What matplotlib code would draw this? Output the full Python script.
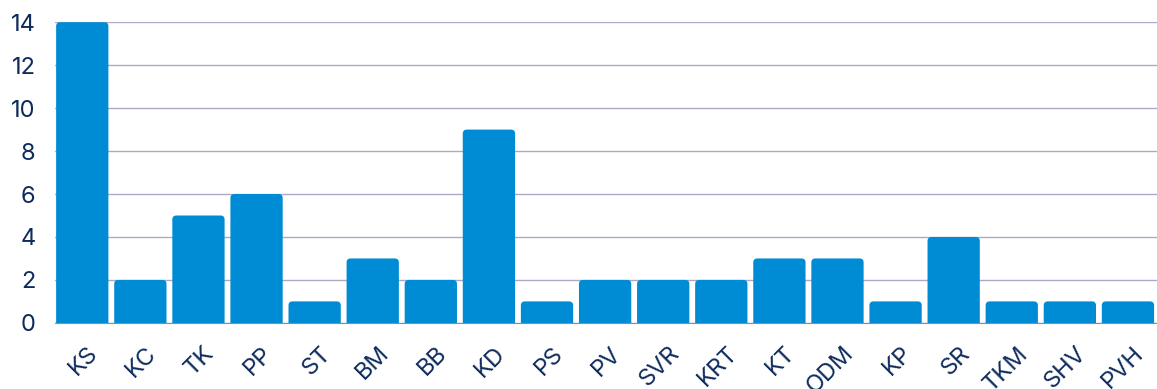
import matplotlib.pyplot as plt
from matplotlib.patches import FancyBboxPatch
from matplotlib.transforms import ScaledTranslation

labels = ['KS', 'KC', 'TK', 'PP', 'ST', 'BM', 'BB', 'KD', 'PS', 'PV',
          'SVR', 'KRT', 'KT', 'ODM', 'KP', 'SR', 'TKM', 'SHV', 'PVH']
counts = [14, 2, 5, 6, 1, 3, 2, 9, 1, 2, 2, 2, 3, 3, 1, 4, 1, 1, 1]
yticks = [0, 2, 4, 6, 8, 10, 12, 14]

bar_color = '#008cd4'
text_color = '#0d2b5c'
grid_color = '#aaaac6'

plt.rcParams['font.family'] = ['Inter', 'DejaVu Sans']

fig = plt.figure(figsize=(11.57, 3.89), dpi=100)
ax = fig.add_axes([0.0475, 0.170, 0.9525, 0.774])

ax.set_xlim(-0.47, len(labels) - 0.5)
ax.set_ylim(0, 14.02)

# bars with rounded top corners; bottom starts below 0 so the lower corners get clipped
w = 0.9
for i, v in enumerate(counts):
    p = FancyBboxPatch((i - w / 2, -0.5), w, v + 0.5,
                       boxstyle='round,pad=0,rounding_size=0.07',
                       mutation_aspect=2.7, facecolor=bar_color,
                       edgecolor='none', zorder=3)
    ax.add_patch(p)

ax.set_yticks(yticks)
ax.yaxis.grid(True, color=grid_color, linewidth=1)
ax.set_axisbelow(True)

for s in ['top', 'right', 'left']:
    ax.spines[s].set_visible(False)
ax.spines['bottom'].set_color('#8a8aa8')
ax.spines['bottom'].set_zorder(4)

ax.set_xticks(range(len(labels)))
ax.set_xticklabels(labels, rotation=45, ha='right', rotation_mode='anchor')
ax.tick_params(axis='x', length=0, pad=14, labelsize=17, labelcolor=text_color)
ax.tick_params(axis='y', length=0, pad=14, labelsize=17, labelcolor=text_color)
shift = ScaledTranslation(5 / 100, 0, fig.dpi_scale_trans)
for t in ax.get_xticklabels():
    t.set_transform(t.get_transform() + shift)

fig.savefig('out.png', dpi=100)
